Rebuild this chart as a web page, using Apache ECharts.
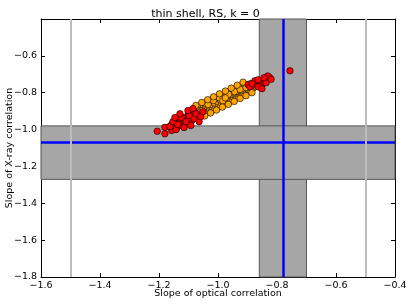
<!DOCTYPE html>
<html>
<head>
<meta charset="utf-8">
<script src="https://cdn.jsdelivr.net/npm/echarts@6/dist/echarts.min.js"></script>
<style>html,body{margin:0;padding:0;background:#fff}#c{width:411px;height:308px}</style>
</head>
<body>
<div id="c"></div>
<script>
var title = 'thin shell, RS, k = 0';
var xName = 'Slope of optical correlation';
var yName = 'Slope of X-ray correlation';
var xRange = [-1.6, -0.4];
var yRange = [-1.8, -0.4];
var opticalBand = [-0.86, -0.70];
var opticalBest = -0.78;
var xrayBand = [-1.27, -0.98];
var xrayBest = -1.07;
var grayLines = [-1.5, -0.5];

var orangePts = [
[-1.092,-0.937],[-1.088,-0.912],[-1.091,-0.897],
[-1.081,-0.940],[-1.078,-0.922],[-1.083,-0.904],[-1.079,-0.887],
[-1.071,-0.934],[-1.068,-0.917],[-1.072,-0.900],[-1.069,-0.882],
[-1.061,-0.927],[-1.058,-0.910],[-1.062,-0.894],[-1.059,-0.877],[-1.057,-0.865],
[-1.051,-0.920],[-1.048,-0.904],[-1.052,-0.887],[-1.049,-0.871],[-1.047,-0.858],
[-1.041,-0.912],[-1.038,-0.895],[-1.042,-0.880],[-1.039,-0.864],[-1.036,-0.850],
[-1.031,-0.905],[-1.028,-0.889],[-1.032,-0.872],[-1.029,-0.856],[-1.027,-0.842],
[-1.021,-0.897],[-1.018,-0.881],[-1.022,-0.864],[-1.019,-0.848],[-1.017,-0.834],
[-1.011,-0.889],[-1.008,-0.873],[-1.012,-0.856],[-1.009,-0.840],[-1.006,-0.827],
[-1.001,-0.881],[-0.998,-0.865],[-1.002,-0.848],[-0.999,-0.832],[-0.997,-0.820],
[-0.991,-0.873],[-0.988,-0.857],[-0.992,-0.840],[-0.989,-0.824],[-0.987,-0.812],
[-0.981,-0.866],[-0.978,-0.850],[-0.982,-0.833],[-0.979,-0.817],[-0.976,-0.804],
[-0.971,-0.857],[-0.968,-0.842],[-0.972,-0.825],[-0.969,-0.809],[-0.967,-0.797],
[-0.961,-0.849],[-0.958,-0.833],[-0.962,-0.817],[-0.959,-0.802],[-0.957,-0.789],
[-0.951,-0.840],[-0.948,-0.825],[-0.952,-0.809],[-0.949,-0.794],[-0.947,-0.782],
[-0.941,-0.832],[-0.938,-0.817],[-0.942,-0.802],[-0.939,-0.787],[-0.937,-0.774],
[-0.931,-0.824],[-0.928,-0.809],[-0.932,-0.794],[-0.929,-0.779],[-0.927,-0.768],
[-0.921,-0.815],[-0.918,-0.800],[-0.922,-0.786],[-0.919,-0.772],[-0.917,-0.761],
[-0.911,-0.807],[-0.908,-0.793],[-0.912,-0.779],[-0.909,-0.765],[-0.907,-0.754],
[-0.901,-0.797],[-0.898,-0.783],[-0.902,-0.770],[-0.899,-0.757],
[-0.891,-0.787],[-0.888,-0.774],[-0.892,-0.761],[-0.889,-0.750],
[-0.881,-0.777],[-0.878,-0.764],[-0.882,-0.752],
[-1.034,-0.864],[-1.015,-0.842],[-0.995,-0.828],[-0.984,-0.844],[-0.964,-0.808],
[-0.944,-0.794],[-0.925,-0.782],[-0.905,-0.772],[-1.054,-0.897],[-0.975,-0.828],
[-1.075,-0.869],[-1.055,-0.853],[-1.035,-0.838],[-1.015,-0.822],[-0.995,-0.806],
[-0.975,-0.791],[-0.955,-0.775],[-0.935,-0.759],[-0.915,-0.743],
[-1.065,-0.941],[-1.045,-0.926],[-1.025,-0.910],[-1.005,-0.894],[-0.985,-0.878],
[-0.965,-0.863],[-0.945,-0.847],[-0.925,-0.831],[-0.905,-0.816],[-0.885,-0.800]
];

var redPts = [
[-1.206,-1.009],[-1.180,-1.023],[-1.180,-0.988],[-1.157,-1.005],[-1.157,-0.973],
[-1.140,-0.988],[-1.140,-0.961],[-1.123,-0.978],[-1.123,-0.951],[-1.106,-0.969],
[-1.106,-0.942],[-1.089,-0.951],[-1.089,-0.924],[-1.072,-0.934],[-1.118,-0.934],
[-1.129,-0.942],[-1.101,-0.915],[-1.078,-0.906],[-1.163,-0.983],[-1.112,-0.955],
[-1.095,-0.938],[-1.135,-0.970],
[-1.163,-0.984],[-1.153,-0.957],[-1.142,-1.000],[-1.136,-0.973],[-1.125,-0.935],
[-1.115,-0.989],[-1.108,-0.957],[-1.098,-0.924],[-1.092,-0.978],[-1.081,-0.941],
[-1.075,-0.914],[-1.064,-0.957],[-1.058,-0.930],[-1.051,-0.903],[-1.129,-0.914],
[-1.146,-0.935],[-1.102,-0.897],[-1.085,-0.886],
[-0.898,-0.757],[-0.881,-0.753],[-0.870,-0.745],[-0.859,-0.757],[-0.848,-0.745],
[-0.837,-0.718],[-0.825,-0.718],[-0.831,-0.709],[-0.820,-0.727],[-0.853,-0.768],
[-0.864,-0.768],[-0.887,-0.764],[-0.842,-0.735],
[-0.892,-0.768],[-0.875,-0.735],[-0.851,-0.778],[-0.837,-0.746],[-0.885,-0.751],
[-0.864,-0.730],[-0.844,-0.719],
[-0.756,-0.681]
];

function fmt(v){ return v.toFixed(1).replace('-', '\u2212'); }
var font = 'DejaVu Sans';

var chart = echarts.init(document.getElementById('c'), null, {renderer:'canvas'});
var axisCommon = {
  axisLine:{show:true, onZero:false, lineStyle:{color:'#000', width:1}},
  axisTick:{show:true, inside:true, length:4, lineStyle:{color:'#000'}},
  splitLine:{show:false}
};
chart.setOption({
  animation:false,
  backgroundColor:'#fff',
  title:{text:title, left:'center', top:4, textStyle:{fontFamily:font, fontSize:11, fontWeight:'normal', color:'#000'}},
  grid:{left:41, right:16, top:19, bottom:31, containLabel:false, outerBoundsMode:'none'},
  xAxis:[
    Object.assign({type:'value', min:xRange[0], max:xRange[1], interval:0.2, position:'bottom',
      name:xName, nameLocation:'middle', nameGap:12, nameMoveOverlap:false,
      nameTextStyle:{fontFamily:font, fontSize:9.5, color:'#000', verticalAlign:'top', padding:[0,0,0,0]},
      axisLabel:{formatter:fmt, margin:4, fontFamily:font, fontSize:9.5, color:'#000'}}, axisCommon),
    Object.assign({type:'value', min:xRange[0], max:xRange[1], interval:0.2, position:'top',
      axisLabel:{show:false}}, axisCommon)
  ],
  yAxis:[
    Object.assign({type:'value', min:yRange[0], max:yRange[1], interval:0.2, position:'left',
      name:yName, nameLocation:'middle', nameGap:26, nameMoveOverlap:false,
      nameTextStyle:{fontFamily:font, fontSize:9.5, color:'#000'},
      axisLabel:{formatter:fmt, margin:4, fontFamily:font, fontSize:9.5, color:'#000', showMaxLabel:false}}, axisCommon),
    Object.assign({type:'value', min:yRange[0], max:yRange[1], interval:0.2, position:'right',
      axisLabel:{show:false}}, axisCommon)
  ],
  series:[
    {type:'scatter', data:[], z:1, silent:true,
     markArea:{silent:true, itemStyle:{color:'#a6a6a6', borderColor:'#555', borderWidth:1},
       data:[[{xAxis:opticalBand[0], yAxis:yRange[0]},{xAxis:opticalBand[1], yAxis:yRange[1]}]]}},
    {type:'scatter', data:[], z:2, silent:true,
     markArea:{silent:true, itemStyle:{color:'#a6a6a6', borderColor:'#555', borderWidth:1},
       data:[[{xAxis:xRange[0], yAxis:xrayBand[0]},{xAxis:xRange[1], yAxis:xrayBand[1]}]]}},
    {type:'scatter', data:[], z:3, silent:true,
     markLine:{silent:true, symbol:'none', label:{show:false}, lineStyle:{color:'#0000ff', width:2.5, type:'solid'},
       data:[{xAxis:opticalBest},{yAxis:xrayBest}]}},
    {type:'scatter', data:[], z:4, silent:true,
     markLine:{silent:true, symbol:'none', label:{show:false}, lineStyle:{color:'#bcbcbc', width:2, type:'solid'},
       data:grayLines.map(function(v){return {xAxis:v};})}},
    {type:'scatter', data:orangePts, z:5, symbolSize:6.5,
     itemStyle:{color:'#ffa500', borderColor:'#000', borderWidth:0.6, opacity:1}},
    {type:'scatter', data:redPts, z:6, symbolSize:6.5,
     itemStyle:{color:'#ff0000', borderColor:'#000', borderWidth:0.6, opacity:1}}
  ]
});
</script>
</body>
</html>
